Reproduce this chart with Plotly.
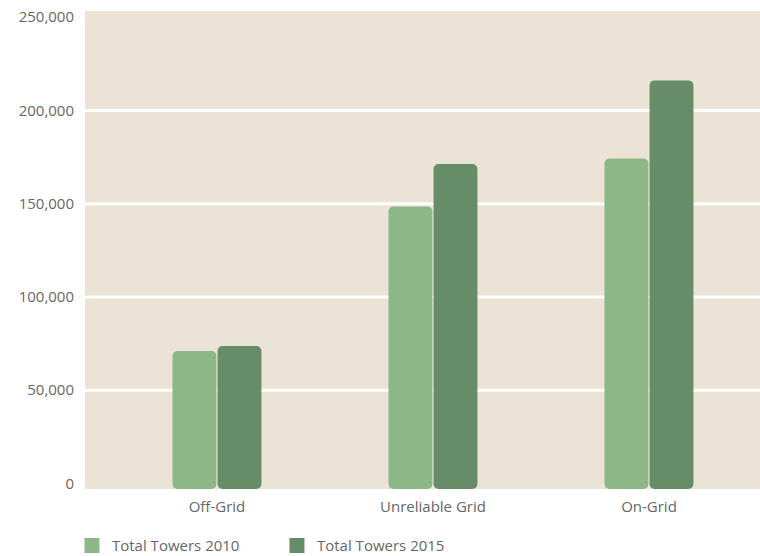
import plotly.graph_objects as go

categories = ["Off-Grid", "Unreliable Grid", "On-Grid"]
towers_2010 = [71000, 148500, 174200]
towers_2015 = [73700, 171300, 216100]
series_names = ["Total Towers 2010", "Total Towers 2015"]
ytick_vals = [0, 50000, 100000, 150000, 200000, 250000]
ytick_text = ["0", "50,000", "100,000", "150,000", "200,000", "250,000"]
grid_vals = [50000, 100000, 150000, 200000]

c2010 = "#8CB888"
c2015 = "#668C68"
bg = "#EBE4D6"
txt = "#666666"
font_family = "Open Sans"

pad_low = 3000
pad_high = 3300

fig = go.Figure()
for name, vals, col in [(series_names[0], towers_2010, c2010), (series_names[1], towers_2015, c2015)]:
    fig.add_trace(go.Bar(
        x=categories,
        y=[v + pad_low for v in vals],
        base=[-pad_low] * len(vals),
        name=name,
        marker=dict(color=col, line=dict(width=0)),
        hovertext=[f"{v:,}" for v in vals],
        hoverinfo="text+name",
        showlegend=False,
        legendgroup=name,
    ))
# legend entries with larger square swatches
for name, col in [(series_names[0], c2010), (series_names[1], c2015)]:
    fig.add_trace(go.Scatter(
        x=[None], y=[None], mode="markers", name=name, legendgroup=name,
        marker=dict(symbol="square", size=15, color=col),
        showlegend=True,
    ))

for g in grid_vals:
    fig.add_shape(type="line", xref="paper", yref="y", x0=0, x1=1, y0=g, y1=g,
                  line=dict(color="white", width=3), layer="below")

fig.update_layout(
    width=760, height=556,
    margin=dict(l=85, r=0, t=11, b=67, autoexpand=False),
    paper_bgcolor="white",
    plot_bgcolor=bg,
    barmode="group",
    bargap=0.583,
    bargroupgap=0.025,
    barcornerradius=5,
    font=dict(family=font_family, size=15, color=txt),
    xaxis=dict(range=[-0.611, 2.514], showgrid=False, zeroline=False, showline=False,
               ticks="", ticklabelstandoff=7, tickfont=dict(size=15, color=txt)),
    yaxis=dict(range=[-pad_low, 250000 + pad_high], showgrid=False, zeroline=False,
               showline=False, tickvals=ytick_vals, ticktext=ytick_text, ticks="",
               ticklabelstandoff=10, tickfont=dict(size=15, color=txt)),
    showlegend=True,
    legend=dict(orientation="h", x=-0.0193, xanchor="left", y=-0.1185, yanchor="middle",
                entrywidth=160, entrywidthmode="pixels", traceorder="normal",
                font=dict(size=15, color=txt), itemsizing="trace"),
)

fig.write_html("out.html")
